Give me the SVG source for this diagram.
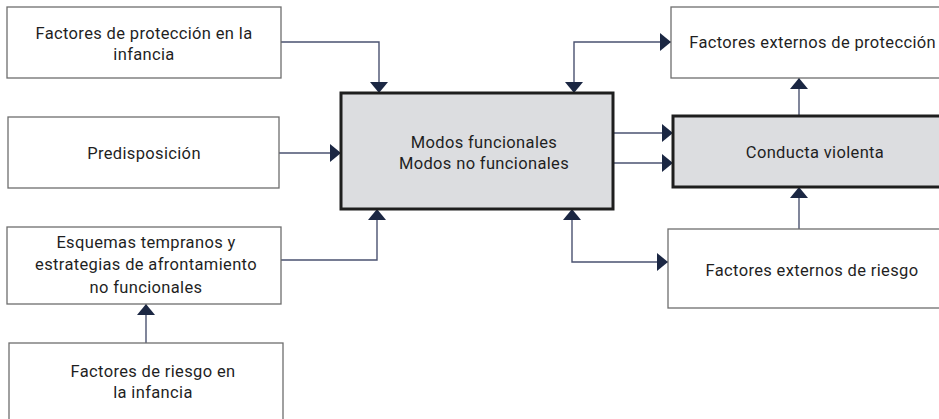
<svg xmlns="http://www.w3.org/2000/svg" width="939" height="419" viewBox="0 0 939 419">
<defs>
<style>
.box{fill:#ffffff;stroke:#6e6e6e;stroke-width:1.3}
.main{fill:#dcdde0;stroke:#1e1e1e;stroke-width:3}
text{font-family:Roboto,"Liberation Sans",Arial,sans-serif;font-size:16.5px;fill:#1f1f1f;text-anchor:middle;letter-spacing:0.35px}
.c{fill:none;stroke:#4a5270;stroke-width:1.4}
</style>
<marker id="ah" viewBox="0 0 11 18" refX="11" refY="9" markerWidth="11" markerHeight="18" markerUnits="userSpaceOnUse" orient="auto-start-reverse">
<path d="M0,0 L11,9 L0,18 z" fill="#1b2743"/>
</marker>
</defs>
<rect width="939" height="419" fill="#ffffff"/>
<g id="connectors">
<path class="c" d="M281,42 H379 V93" marker-end="url(#ah)"/>
<path class="c" d="M279,153 H341" marker-end="url(#ah)"/>
<path class="c" d="M281,260 H377 V209" marker-end="url(#ah)"/>
<path class="c" d="M146,343 V304" marker-end="url(#ah)"/>
<path class="c" d="M574,93 V42 H671" marker-start="url(#ah)" marker-end="url(#ah)"/>
<path class="c" d="M613,133 H673" marker-end="url(#ah)"/>
<path class="c" d="M613,163 H673" marker-end="url(#ah)"/>
<path class="c" d="M799,116 V78" marker-end="url(#ah)"/>
<path class="c" d="M799,229 V187" marker-end="url(#ah)"/>
<path class="c" d="M572,209 V262 H668" marker-start="url(#ah)" marker-end="url(#ah)"/>
</g>
<g id="n-proteccion-infancia">
<rect class="box" x="7" y="7" width="274" height="71"/>
<text x="144" y="39">Factores de protección en la</text>
<text x="144" y="60">infancia</text>
</g>
<g id="n-predisposicion">
<rect class="box" x="8" y="117" width="271" height="71"/>
<text x="144" y="159">Predisposición</text>
</g>
<g id="n-esquemas">
<rect class="box" x="7" y="227" width="274" height="77"/>
<text x="146" y="248">Esquemas tempranos y</text>
<text x="146" y="270">estrategias de afrontamiento</text>
<text x="146" y="293">no funcionales</text>
</g>
<g id="n-riesgo-infancia">
<rect class="box" x="9" y="343" width="274" height="90"/>
<text x="153" y="377">Factores de riesgo en</text>
<text x="153" y="398">la infancia</text>
</g>
<g id="n-modos">
<rect class="main" x="341" y="93" width="272" height="116"/>
<text x="484" y="148">Modos funcionales</text>
<text x="484" y="169">Modos no funcionales</text>
</g>
<g id="n-ext-proteccion">
<rect class="box" x="671" y="7" width="290" height="71"/>
<text x="936" y="48" style="text-anchor:end">Factores externos de protección</text>
</g>
<g id="n-conducta">
<rect class="main" x="673" y="116" width="290" height="71"/>
<text x="815" y="158">Conducta violenta</text>
</g>
<g id="n-ext-riesgo">
<rect class="box" x="668" y="229" width="290" height="79"/>
<text x="812" y="276">Factores externos de riesgo</text>
</g>
</svg>
